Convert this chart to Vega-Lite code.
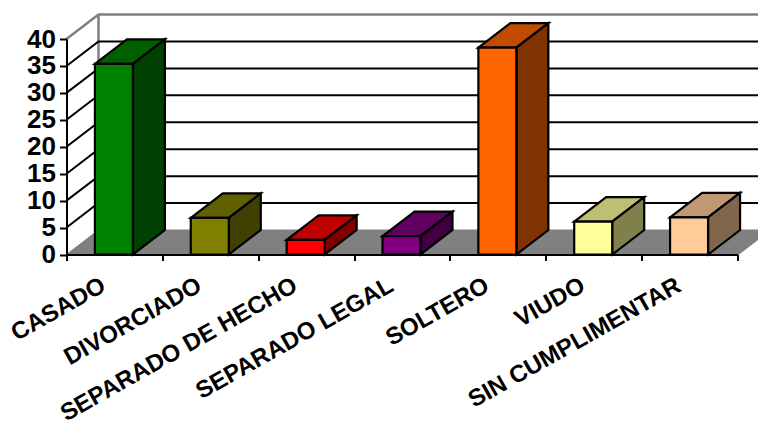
{
"$schema":"https://vega.github.io/schema/vega-lite/v6.json",
"width":671,"height":215.5,
"autosize":"none",
"padding":{"left":66.5,"top":39,"right":20.5,"bottom":169.5},
"background":"white",
"config":{"view":{"stroke":null},"font":"Liberation Sans","axis":{"labelOverlap":false}},
"datasets":{
"bars":[
{"estado":"CASADO","valor":35.4},
{"estado":"DIVORCIADO","valor":6.8},
{"estado":"SEPARADO DE HECHO","valor":2.7},
{"estado":"SEPARADO LEGAL","valor":3.4},
{"estado":"SOLTERO","valor":38.4},
{"estado":"VIUDO","valor":6.1},
{"estado":"SIN CUMPLIMENTAR","valor":6.9}],
"lineas":[{"y":5},{"y":10},{"y":15},{"y":20},{"y":25},{"y":30},{"y":35}],
"base":[{"y":0}],
"techo":[{"y":40}]
},
"layer":[
{"data":{"name":"base"},
 "mark":{"type":"point","shape":"M0,0L32,-24.5L704,-24.5L672,0Z","size":4,"filled":true,"fill":"#808080","stroke":"#808080","strokeWidth":1,"opacity":1,"clip":false},
 "encoding":{
  "x":{"datum":"CASADO","type":"nominal","bandPosition":0,"scale":{"type":"band","domain":["CASADO","DIVORCIADO","SEPARADO DE HECHO","SEPARADO LEGAL","SOLTERO","VIUDO","SIN CUMPLIMENTAR"],"paddingInner":0,"paddingOuter":0},
   "axis":{"title":null,"tickBand":"extent","labelAngle":-29.5,"labelAlign":"right","labelBaseline":"middle","labelFontSize":24,"labelFontWeight":"bold","labelColor":"black","labelOffset":-11,"labelPadding":23,"labelOverlap":false,"labelLimit":0,"labelBound":false,"tickColor":"black","tickSize":6,"tickWidth":2,"domainColor":"black","domainWidth":2,"grid":false,"zindex":1}},
  "y":{"field":"y","type":"quantitative","scale":{"domain":[0,40],"nice":false},
   "axis":{"title":null,"values":[0,5,10,15,20,25,30,35,40],"tickCount":9,"labelFontSize":26,"labelFontWeight":"bold","labelColor":"black","labelPadding":4,"labelOverlap":false,"labelBound":false,"labelFlush":false,"tickColor":"black","tickSize":7,"tickWidth":2,"domainColor":"black","domainWidth":2,"grid":false,"zindex":1}}
 }},
{"data":{"name":"techo"},
 "mark":{"type":"point","shape":"M0,0L32,-24.5L704,-24.5M32,-24.5L32,191","size":4,"filled":false,"stroke":"#808080","strokeWidth":2.5,"opacity":1},
 "encoding":{
  "x":{"datum":"CASADO","type":"nominal","bandPosition":0},
  "y":{"field":"y","type":"quantitative","axis":{"values":[0,5,10,15,20,25,30,35,40],"tickCount":9,"labelOverlap":false}}}},
{"data":{"name":"lineas"},
 "mark":{"type":"point","shape":"M0,0L32,-24.5L704,-24.5","size":4,"filled":false,"stroke":"black","strokeWidth":2,"opacity":1},
 "encoding":{
  "x":{"datum":"CASADO","type":"nominal","bandPosition":0},
  "y":{"field":"y","type":"quantitative","axis":{"values":[0,5,10,15,20,25,30,35,40],"tickCount":9,"labelOverlap":false}}}},
{"data":{"name":"bars"},
 "mark":{"type":"point","shape":"M0,0L-38,0L-6,-24.5L32,-24.5Z","size":4,"filled":true,"stroke":"black","strokeWidth":2.2,"opacity":1,"xOffset":18.5},
 "encoding":{
  "x":{"field":"estado","type":"nominal"},
  "y":{"field":"valor","type":"quantitative","axis":{"values":[0,5,10,15,20,25,30,35,40],"tickCount":9,"labelOverlap":false}},
  "fill":{"field":"estado","type":"nominal","legend":null,"scale":{"domain":["CASADO","DIVORCIADO","SEPARADO DE HECHO","SEPARADO LEGAL","SOLTERO","VIUDO","SIN CUMPLIMENTAR"],"range":["#006000","#606000","#bf0000","#600060","#bf4c00","#bfbf73","#bf9973"]}}}},
{"data":{"name":"bars"},
 "mark":{"type":"point","size":4,"filled":true,"stroke":"black","strokeWidth":2.2,"opacity":1,"xOffset":18.5},
 "encoding":{
  "x":{"field":"estado","type":"nominal"},
  "y":{"field":"valor","type":"quantitative","axis":{"values":[0,5,10,15,20,25,30,35,40],"tickCount":9,"labelOverlap":false}},
  "shape":{"field":"estado","type":"nominal","legend":null,"scale":{"domain":["CASADO","DIVORCIADO","SEPARADO DE HECHO","SEPARADO LEGAL","SOLTERO","VIUDO","SIN CUMPLIMENTAR"],"range":["M0,0L32,-24.5L32,166.2L0,190.7Z","M0,0L32,-24.5L32,12.1L0,36.6Z","M0,0L32,-24.5L32,-10L0,14.5Z","M0,0L32,-24.5L32,-6.2L0,18.3Z","M0,0L32,-24.5L32,182.4L0,206.9Z","M0,0L32,-24.5L32,8.4L0,32.9Z","M0,0L32,-24.5L32,12.7L0,37.2Z"]}},
  "fill":{"field":"estado","type":"nominal","legend":null,"scale":{"domain":["CASADO","DIVORCIADO","SEPARADO DE HECHO","SEPARADO LEGAL","SOLTERO","VIUDO","SIN CUMPLIMENTAR"],"range":["#004000","#404000","#800000","#400040","#803300","#80804d","#80664d"]}}}},
{"data":{"name":"bars"},
 "mark":{"type":"bar","size":38,"stroke":"black","strokeWidth":2.2,"xOffset":-0.5},
 "encoding":{
  "x":{"field":"estado","type":"nominal"},
  "y":{"field":"valor","type":"quantitative","axis":{"values":[0,5,10,15,20,25,30,35,40],"tickCount":9,"labelOverlap":false}},
  "fill":{"field":"estado","type":"nominal","legend":null,"scale":{"domain":["CASADO","DIVORCIADO","SEPARADO DE HECHO","SEPARADO LEGAL","SOLTERO","VIUDO","SIN CUMPLIMENTAR"],"range":["#008000","#808000","#ff0000","#800080","#ff6600","#ffff99","#ffcc99"]}}}}
],
"resolve":{"scale":{"fill":"independent","shape":"independent"}}
}
